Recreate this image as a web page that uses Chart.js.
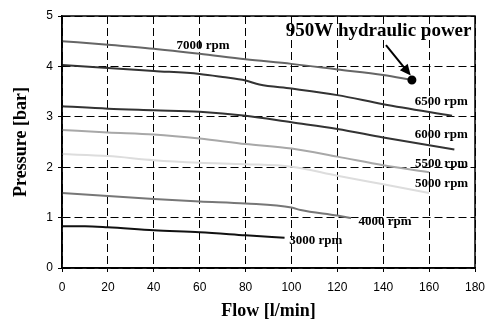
<html>
<head>
<meta charset="utf-8">
<script src="https://cdn.jsdelivr.net/npm/chart.js@4.4.0/dist/chart.umd.min.js"></script>
<style>
  body { margin: 0; background: #fff; }
  #wrap { width: 485px; height: 322px; }
</style>
</head>
<body>
<div id="wrap"><canvas id="pumpChart" width="485" height="322"></canvas></div>

<script type="text/javascript">
    // pump curves: flow [l/min] vs pressure [bar]
    var flow7000 = [0, 20, 40, 60, 80, 100, 120, 140, 152.5];
    var pres7000 = [4.50, 4.43, 4.35, 4.25, 4.14, 4.05, 3.94, 3.83, 3.73];
    var flow6500 = [0, 20, 40, 60, 70, 80, 86, 100, 120, 140, 170];
    var pres6500 = [4.03, 3.97, 3.91, 3.85, 3.79, 3.72, 3.64, 3.56, 3.43, 3.25, 3.02];
    var flow6000 = [0, 20, 40, 60, 80, 100, 120, 140, 171];
    var pres6000 = [3.21, 3.16, 3.13, 3.10, 3.02, 2.89, 2.76, 2.59, 2.35];
    var flow5500 = [0, 20, 40, 60, 80, 100, 120, 140, 160];
    var pres5500 = [2.74, 2.69, 2.65, 2.57, 2.46, 2.37, 2.21, 2.04, 1.90];
    var flow5000 = [0, 20, 40, 60, 80, 100, 120, 140, 160];
    var pres5000 = [2.26, 2.22, 2.14, 2.09, 2.06, 2.01, 1.83, 1.66, 1.49];
    var flow4000 = [0, 20, 40, 60, 80, 100, 104, 120, 126];
    var pres4000 = [1.49, 1.43, 1.37, 1.32, 1.28, 1.20, 1.15, 1.04, 0.99];
    var flow3000 = [0, 10, 20, 40, 60, 80, 97];
    var pres3000 = [0.83, 0.83, 0.81, 0.75, 0.71, 0.65, 0.60];

    var xTicks = [0, 20, 40, 60, 80, 100, 120, 140, 160, 180];
    var yTicks = [0, 1, 2, 3, 4, 5];

    // curve labels, anchored in data units
    var curveLabels = [
        { text: '7000 rpm', x: 61.5, y: 4.42, align: 'center', size: 13 },
        { text: '6500 rpm', x: 153.7, y: 3.30, align: 'left', size: 13 },
        { text: '6000 rpm', x: 153.7, y: 2.64, align: 'left', size: 13 },
        { text: '5500 rpm', x: 153.9, y: 2.08, align: 'left', size: 13 },
        { text: '5000 rpm', x: 153.9, y: 1.68, align: 'left', size: 13 },
        { text: '4000 rpm', x: 129.2, y: 0.92, align: 'left', size: 13 },
        { text: '3000 rpm', x: 99, y: 0.54, align: 'left', size: 13 },
        { text: '950W hydraulic power', x: 97.5, y: 4.71, align: 'left', size: 19 }
    ];
    var arrowFrom = { x: 141.2, y: 4.42 };
    var arrowTo = { x: 152.0, y: 3.82 };

    function pts(xs, ys) {
        return xs.map(function (x, i) { return { x: x, y: ys[i] }; });
    }

    function curve(label, xs, ys, color) {
        return {
            label: label,
            data: pts(xs, ys),
            borderColor: color,
            borderWidth: 2,
            pointRadius: 0,
            fill: false,
            cubicInterpolationMode: 'monotone'
        };
    }

    var powerCurve = curve('7000 rpm', flow7000, pres7000, '#666666');
    // dot marks the 950W point at the end of the 7000 rpm curve
    powerCurve.pointRadius = function (ctx) { return ctx.dataIndex === flow7000.length - 1 ? 3.5 : 0; };
    powerCurve.pointBackgroundColor = '#000';
    powerCurve.pointBorderColor = '#000';

    var datasets = [
        powerCurve,
        curve('6500 rpm', flow6500, pres6500, '#333333'),
        curve('6000 rpm', flow6000, pres6000, '#333333'),
        curve('5500 rpm', flow5500, pres5500, '#a8a8a8'),
        curve('5000 rpm', flow5000, pres5000, '#dddddd'),
        curve('4000 rpm', flow4000, pres4000, '#777777'),
        curve('3000 rpm', flow3000, pres3000, '#111111')
    ];

    const frame = {
        id: 'frame',
        afterDraw(chart) {
            const a = chart.chartArea, ctx = chart.ctx;
            ctx.save();
            ctx.strokeStyle = '#000';
            ctx.lineWidth = 1.5;
            ctx.strokeRect(a.left, a.top, a.right - a.left, a.bottom - a.top);
            ctx.restore();
        }
    };

    const notes = {
        id: 'notes',
        afterDatasetsDraw(chart) {
            const ctx = chart.ctx, xs = chart.scales.x, ys = chart.scales.y;
            ctx.save();
            ctx.fillStyle = '#000';
            ctx.textBaseline = 'middle';
            curveLabels.forEach(function (l) {
                ctx.font = 'bold ' + l.size + 'px "Liberation Serif", "Times New Roman", serif';
                ctx.textAlign = l.align;
                ctx.fillText(l.text, xs.getPixelForValue(l.x), ys.getPixelForValue(l.y));
            });
            // arrow pointing at the dot
            const x1 = xs.getPixelForValue(arrowFrom.x), y1 = ys.getPixelForValue(arrowFrom.y);
            const x2 = xs.getPixelForValue(arrowTo.x), y2 = ys.getPixelForValue(arrowTo.y);
            const ang = Math.atan2(y2 - y1, x2 - x1);
            ctx.strokeStyle = '#000';
            ctx.lineWidth = 2;
            ctx.beginPath();
            ctx.moveTo(x1, y1);
            ctx.lineTo(x2 - 8 * Math.cos(ang), y2 - 8 * Math.sin(ang));
            ctx.stroke();
            ctx.beginPath();
            ctx.moveTo(x2, y2);
            ctx.lineTo(x2 - 11 * Math.cos(ang) + 5 * Math.sin(ang), y2 - 11 * Math.sin(ang) - 5 * Math.cos(ang));
            ctx.lineTo(x2 - 11 * Math.cos(ang) - 5 * Math.sin(ang), y2 - 11 * Math.sin(ang) + 5 * Math.cos(ang));
            ctx.closePath();
            ctx.fill();
            ctx.restore();
        }
    };

    const tickFont = { family: '"Liberation Sans", Arial, sans-serif', size: 12 };
    const titleFont = { family: '"Liberation Serif", "Times New Roman", serif', size: 18, weight: 'bold' };

    new Chart(document.getElementById('pumpChart'), {
        type: 'line',
        data: { datasets: datasets },
        options: {
            responsive: false,
            animation: false,
            layout: { padding: { left: 0, right: 10, top: 16, bottom: 0 } },
            plugins: {
                legend: { display: false },
                tooltip: { enabled: false }
            },
            scales: {
                x: {
                    type: 'linear',
                    min: 0,
                    max: 180,
                    afterBuildTicks: function (s) { s.ticks = xTicks.map(function (v) { return { value: v }; }); },
                    afterFit: function (s) { s.height = 54; s.paddingLeft = 0; s.paddingRight = 0; },
                    ticks: { color: '#000', font: tickFont, padding: 8, maxRotation: 0 },
                    grid: { color: '#000', lineWidth: 1, tickLength: 4, tickBorderDash: [] },
                    border: { display: true, color: '#000', width: 1.5, dash: [8, 4] },
                    title: { display: true, text: 'Flow [l/min]', color: '#000', font: titleFont, padding: { top: 0, bottom: 0 } }
                },
                y: {
                    min: 0,
                    max: 5,
                    afterBuildTicks: function (s) { s.ticks = yTicks.map(function (v) { return { value: v }; }); },
                    afterFit: function (s) { s.width = 62; s.paddingTop = 0; s.paddingBottom = 0; },
                    ticks: { color: '#000', font: tickFont, padding: 5 },
                    grid: { color: '#000', lineWidth: 1, tickLength: 4, tickBorderDash: [] },
                    border: { display: true, color: '#000', width: 1.5, dash: [8, 4] },
                    title: { display: true, text: 'Pressure [bar]', color: '#000', font: titleFont, padding: { top: 11, bottom: 0 } }
                }
            }
        },
        plugins: [frame, notes]
    });
</script>
</body>
</html>
